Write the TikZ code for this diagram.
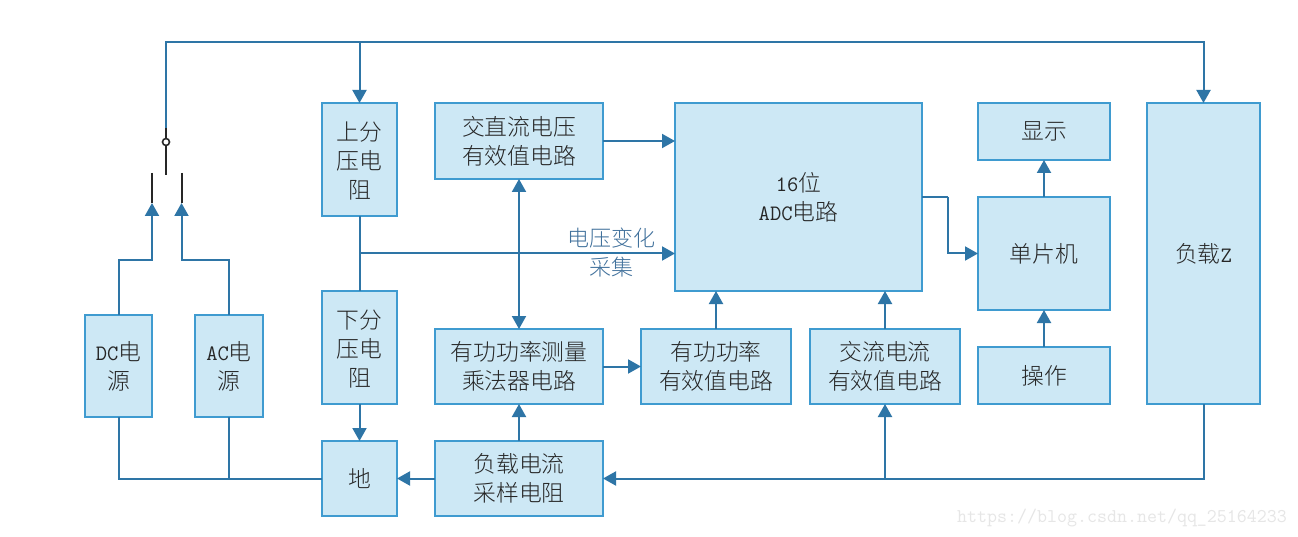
\documentclass[tikz,border=0pt]{standalone}
\usepackage{fontspec}
\usetikzlibrary{arrows.meta,calc}
\newfontfamily\zhfont{Noto Sans CJK SC Light}
\newcommand\zh[1]{{\zhfont #1}}
\newcommand\zhb[1]{{\fontsize{22.8}{29}\selectfont\zhfont #1}}
\newcommand\low{\rule{0pt}{21pt}}
\definecolor{boxfill}{HTML}{CDE8F5}
\definecolor{boxline}{HTML}{3F9BD0}
\definecolor{wire}{HTML}{2E75A6}
\definecolor{lbl}{HTML}{41719C}
\definecolor{mark}{HTML}{E6E6E6}
\tikzset{
  box/.style={draw=boxline,fill=boxfill,line width=1.6pt,inner sep=0pt,outer sep=0pt,align=center,text=black!85,
    font=\fontsize{22}{29}\selectfont\ttfamily},
  wireline/.style={draw=wire,line width=2pt},
  arrowline/.style={wireline,-{Triangle[width=14pt,length=13pt]}},
  twoway/.style={wireline,{Triangle[width=14pt,length=13pt]}-{Triangle[width=14pt,length=13pt]}},
  contact/.style={draw=black!85,line width=2pt},
  pivot/.style={circle,draw=black!85,fill=white,line width=1.6pt,minimum size=7pt,inner sep=0pt},
  caption/.style={text=lbl,font=\fontsize{22}{28}\selectfont,align=center,inner sep=0pt},
  watermark/.style={text=mark,font=\fontsize{19.4}{19.4}\selectfont\ttfamily,inner sep=0pt}
}
\begin{document}
\begin{tikzpicture}[x=1pt,y=-1pt]
\useasboundingbox (0,0) rectangle (1298,537);
\fill[white] (0,0) rectangle (1298,537);
% boxes
\node[box,minimum width=75pt,minimum height=113pt] (up) at (359.5,159.5) {\low\zhb{上分}\\\zhb{压电}\\\zhb{阻}};
\node[box,minimum width=75pt,minimum height=113pt] (down) at (359.5,347.5) {\low\zhb{下分}\\\zhb{压电}\\\zhb{阻}};
\node[box,minimum width=75pt,minimum height=75pt] (gnd) at (359.5,478.5) {\zhb{地}};
\node[box,minimum width=67pt,minimum height=102pt] (dc) at (118.5,366) {DC\zhb{电}\\\zhb{源}};
\node[box,minimum width=68pt,minimum height=102pt] (ac) at (229,366) {AC\zhb{电}\\\zhb{源}};
\node[box,minimum width=168pt,minimum height=76pt] (vrms) at (519,141) {\zhb{交直流电压}\\\zhb{有效值电路}};
\node[box,minimum width=247pt,minimum height=188pt] (adc) at (798.5,197) {16\zhb{位}\\ADC\zhb{电路}};
\node[box,minimum width=168pt,minimum height=75pt] (mul) at (519,366.5) {\zhb{有功功率测量}\\\zhb{乘法器电路}};
\node[box,minimum width=150pt,minimum height=75pt] (prms) at (716,366.5) {\zhb{有功功率}\\\zhb{有效值电路}};
\node[box,minimum width=150pt,minimum height=75pt] (irms) at (885,366.5) {\zhb{交流电流}\\\zhb{有效值电路}};
\node[box,minimum width=168pt,minimum height=75pt] (shunt) at (519,478.5) {\zhb{负载电流}\\\zhb{采样电阻}};
\node[box,minimum width=132pt,minimum height=57pt] (disp) at (1044,131.5) {\zhb{显示}};
\node[box,minimum width=132pt,minimum height=113pt] (mcu) at (1044,253.5) {\zhb{单片机}};
\node[box,minimum width=132pt,minimum height=57pt] (op) at (1044,375.5) {\zhb{操作}};
\node[box,minimum width=113pt,minimum height=301pt] (load) at (1203.5,253.5) {\zhb{负载}Z};
% free points
\coordinate (topL) at (166,42.5);
\coordinate (topM) at (up.north |- topL);
\coordinate (swTop) at (166,128);
\coordinate (swPin) at (166,175);
\node[pivot] (piv) at (166,142) {};
\coordinate (dcEnd) at (152,203);
\coordinate (acEnd) at (181.5,203);
\coordinate (dcTip) at (152,173);
\coordinate (acTip) at (181.5,173);
\coordinate (riseY) at (0,260.5);
\coordinate (gndY) at (gnd.west);
\coordinate (tap) at (up.south |- mcu.west);
\coordinate (adcIn) at (adc.west |- mcu.west);
\coordinate (adcOut) at (adc.east |- 0,197);
\coordinate (adcMid) at (948,197);
\coordinate (busI) at (irms.south |- shunt.east);
% wires
\draw[wireline] (swTop) -- (topL) -- (topM);
\draw[arrowline] (topM) -- (up.north);
\draw[arrowline] (topM) -| (load.north);
\draw[contact] (swTop) -- (piv.north);
\draw[contact] (piv.south) -- (swPin);
\draw[contact] (dcTip) -- (dcEnd);
\draw[contact] (acTip) -- (acEnd);
\draw[arrowline] (dc.north) -- (dc.north |- riseY) -| (dcEnd);
\draw[arrowline] (ac.north) -- (ac.north |- riseY) -| (acEnd);
\draw[wireline] (dc.south) |- (gndY);
\draw[wireline] (ac.south) -- (ac.south |- gndY);
\draw[wireline] (up.south) -- (down.north);
\draw[arrowline] (tap) -- (adcIn);
\draw[arrowline] (down.south) -- (gnd.north);
\draw[arrowline] (shunt.west) -- (gnd.east);
\draw[arrowline] (shunt.north) -- (mul.south);
\draw[twoway] (vrms.south) -- (mul.north);
\draw[arrowline] (vrms.east) -- (adc.west |- vrms.east);
\draw[arrowline] (mul.east) -- (prms.west);
\draw[arrowline] (prms.north) -- (adc.south -| prms.north);
\draw[arrowline] (irms.north) -- (adc.south -| irms.north);
\draw[wireline] (adcOut) -- (adcMid);
\draw[arrowline] (adcMid) |- (mcu.west);
\draw[arrowline] (mcu.north) -- (disp.south);
\draw[arrowline] (op.north) -- (mcu.south);
\draw[arrowline] (load.south) |- (shunt.east);
\draw[arrowline] (busI) -- (irms.south);
% labels
\node[caption] (vlabel) at (611,252.5) {\zh{电压变化}\\[1pt]\zh{采集}};
\node[watermark,anchor=west] (wm) at (957,517.5) {https://blog.csdn.net/qq\_25164233};
\end{tikzpicture}
\end{document}
